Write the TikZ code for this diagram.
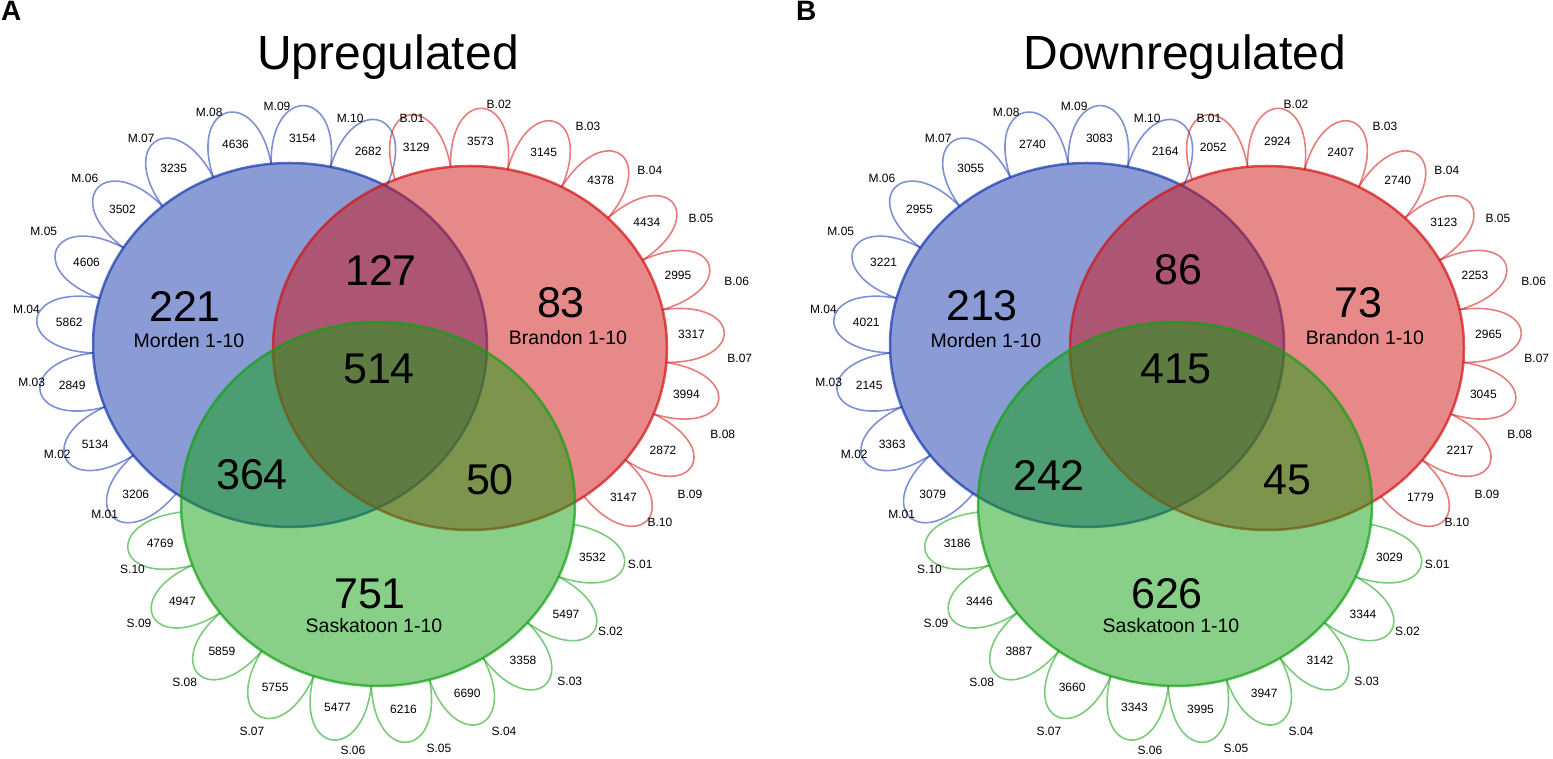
\documentclass[tikz,border=0pt]{standalone}
\usepackage{fontspec}
\setmainfont{Liberation Sans}
\usetikzlibrary{calc}
\definecolor{vblue}{RGB}{21,55,173}
\definecolor{vred}{RGB}{209,19,19}
\definecolor{vgreen}{RGB}{17,161,17}
\tikzset{
    %Define style for the three circles
    vcircle/.style={
           draw=#1, fill=#1,
           line width=2.5pt,
           fill opacity=0.5,
           draw opacity=0.7},
    %Define style for one petal per sample
    petal/.style={
           draw=#1, draw opacity=0.55,
           line width=1.6pt},
    petalnum/.style={font=\fontsize{12}{14}\selectfont, inner sep=0pt},
    petallab/.style={font=\fontsize{12}{14}\selectfont, inner sep=0pt},
    bignum/.style={font=\fontsize{43}{50}\selectfont, inner sep=0pt},
    sitelab/.style={font=\fontsize{19.5}{23}\selectfont, inner sep=0pt},
    paneltitle/.style={font=\fontsize{48}{56}\selectfont, inner sep=0pt, anchor=base},
    panelletter/.style={font=\bfseries\fontsize{28}{32}\selectfont, inner sep=0pt, anchor=north west}
}
% petals round one circle: #1 name prefix, #2 centre, #3 letter, #4 first angle,
% #5 step, #6 colour, #7 list count/label angle/label distance
\newcommand{\petalring}[7]{%
  \foreach \cnt/\la/\ld [count=\i] in {#7} {
    \pgfmathsetmacro{\angM}{#4+(\i-1)*(#5)}
    \pgfmathsetmacro{\angA}{\angM-abs(#5)/2}
    \pgfmathsetmacro{\angB}{\angM+abs(#5)/2}
    \draw[petal=#6] ($(#2)+({197*cos(\angA)},{182*sin(\angA)})$)
        .. controls +(\angM-4:80) and +(\angM+4:80) ..
        ($(#2)+({197*cos(\angB)},{182*sin(\angB)})$);
    \node[petalnum] (#1n\i) at ($(#2)+({222*cos(\angM)},{207*sin(\angM)})$) {\cnt};
    \node[petallab] (#1l\i) at ($(#2)+(\la:\ld)$) {#3.\ifnum\i<10 0\fi\i};
  }%
}

\begin{document}
\begin{tikzpicture}[x=1pt,y=1pt]
\useasboundingbox (0,0) rectangle (1553,759);

% panel A
\node[panelletter] (aletter) at (1,758) {A};
\node[paneltitle] (atitle) at (388,689) {Upregulated};
\coordinate (aM) at (290,414);
\coordinate (aB) at (470,411);
\coordinate (aS) at (378,255);
\draw[vcircle=vblue] (aM) ellipse [x radius=197, y radius=182];
\draw[vcircle=vred] (aB) ellipse [x radius=197, y radius=182];
\draw[vcircle=vgreen] (aS) ellipse [x radius=197, y radius=182];

\petalring{aM}{aM}{M}{226}{-17.4}{vblue}{3206/222.4/251, 5134/205.1/257, 2849/188.2/261, 5862/172.2/266, 4606/155.3/271, 3502/141.0/264, 3235/125.7/255, 4636/109.2/246, 3154/93.1/239, 2682/75.1/234}
\petalring{aB}{aB}{B}{104}{-16.7}{vred}{3129/104.2/237, 3573/83.2/245, 3145/62.0/251, 4378/44.7/253, 4434/29.4/265, 2995/14.1/275, 3317/-2.1/270, 3994/-18.8/267, 2872/-33.6/264, 3147/-42.6/258}
\petalring{aS}{aS}{S}{-15}{-17.1}{vgreen}{3532/-12.9/269, 5497/-28.7/265, 3358/-42.7/261, 6690/-61.0/260, 6216/-76.0/252, 5477/-95.8/248, 5755/-119.0/260, 5859/-137.3/263, 4947/-153.5/267, 4769/-165.1/254}

\node[bignum] (aonlyM) at (185,453) {221};
\node[sitelab] (asiteM) at (189,418) {Morden 1-10};
\node[bignum] (aonlyB) at (561,456) {83};
\node[sitelab] (asiteB) at (568,421) {Brandon 1-10};
\node[bignum] (aonlyS) at (370,165) {751};
\node[sitelab] (asiteS) at (374,133) {Saskatoon 1-10};
\node[bignum] (aMB) at (381,489) {127};
\node[bignum] (aMS) at (252,284) {364};
\node[bignum] (aBS) at (490,279) {50};
\node[bignum] (aall) at (379,390) {514};

% panel B
\begin{scope}[xshift=797pt]
\node[panelletter] (bletter) at (-1,758) {B};
\node[paneltitle] (btitle) at (388,689) {Downregulated};
\coordinate (bM) at (290,414);
\coordinate (bB) at (470,411);
\coordinate (bS) at (378,255);
\draw[vcircle=vblue] (bM) ellipse [x radius=197, y radius=182];
\draw[vcircle=vred] (bB) ellipse [x radius=197, y radius=182];
\draw[vcircle=vgreen] (bS) ellipse [x radius=197, y radius=182];

\petalring{bM}{bM}{M}{226}{-17.4}{vblue}{3079/222.4/251, 3363/205.1/257, 2145/188.2/261, 4021/172.2/266, 3221/155.3/271, 2955/141.0/264, 3055/125.7/255, 2740/109.2/246, 3083/93.1/239, 2164/75.1/234}
\petalring{bB}{bB}{B}{104}{-16.7}{vred}{2052/104.2/237, 2924/83.2/245, 2407/62.0/251, 2740/44.7/253, 3123/29.4/265, 2253/14.1/275, 2965/-2.1/270, 3045/-18.8/267, 2217/-33.6/264, 1779/-42.6/258}
\petalring{bS}{bS}{S}{-15}{-17.1}{vgreen}{3029/-12.9/269, 3344/-28.7/265, 3142/-42.7/261, 3947/-61.0/260, 3995/-76.0/252, 3343/-95.8/248, 3660/-119.0/260, 3887/-137.3/263, 3446/-153.5/267, 3186/-165.1/254}

\node[bignum] (bonlyM) at (185,453) {213};
\node[sitelab] (bsiteM) at (189,418) {Morden 1-10};
\node[bignum] (bonlyB) at (561,456) {73};
\node[sitelab] (bsiteB) at (568,421) {Brandon 1-10};
\node[bignum] (bonlyS) at (370,165) {626};
\node[sitelab] (bsiteS) at (374,133) {Saskatoon 1-10};
\node[bignum] (bMB) at (381,489) {86};
\node[bignum] (bMS) at (252,284) {242};
\node[bignum] (bBS) at (490,279) {45};
\node[bignum] (ball) at (379,390) {415};
\end{scope}

\end{tikzpicture}
\end{document}
